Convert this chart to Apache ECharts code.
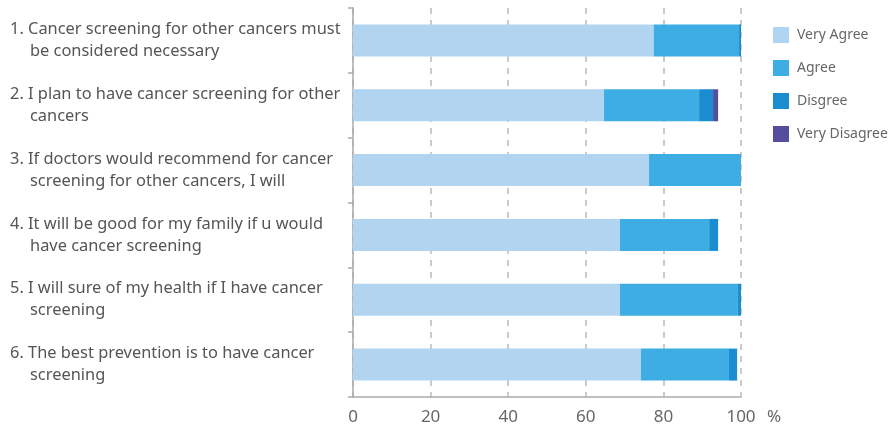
<!DOCTYPE html>
<html>
<head>
<meta charset="utf-8">
<script src="https://cdn.jsdelivr.net/npm/echarts@6/dist/echarts.min.js"></script>
<style>
  html, body { margin: 0; padding: 0; background: #fff; }
  #chart { width: 893px; height: 429px; }
</style>
</head>
<body>
<div id="chart"></div>
<script>
// Survey statements (first line, continuation line)
const categories = [
  ['1. Cancer screening for other cancers must', 'be considered necessary'],
  ['2. I plan to have cancer screening for other', 'cancers'],
  ['3. If doctors would recommend for cancer', 'screening for other cancers, I will'],
  ['4. It will be good for my family if u would', 'have cancer screening'],
  ['5. I will sure of my health if I have cancer', 'screening'],
  ['6. The best prevention is to have cancer', 'screening']
];

const seriesNames = ['Very Agree', 'Agree', 'Disgree', 'Very Disagree'];

// Response shares (%) per statement
const veryAgree    = [77.5, 64.7, 76.3, 68.8, 68.8, 74.2];
const agree        = [22.0, 24.5, 23.7, 23.0, 30.4, 22.7];
const disagree     = [0.5, 3.6, 0, 2.3, 0.8, 2.1];
const veryDisagree = [0, 1.3, 0, 0, 0, 0];

const xTicks = [0, 20, 40, 60, 80, 100];

const colors = ['#B1D5F1', '#3DADE4', '#1A8CCF', '#554E9E'];
const values = [veryAgree, agree, disagree, veryDisagree];
const font = '"Noto Sans", "Liberation Sans", sans-serif';

const chart = echarts.init(document.getElementById('chart'));

chart.setOption({
  animation: false,
  color: colors,
  textStyle: { fontFamily: font },
  legend: {
    orient: 'vertical',
    left: 773,
    top: 27,
    padding: 0,
    itemWidth: 16,
    itemHeight: 16,
    itemGap: 17,
    icon: 'rect',
    textStyle: { color: '#666', fontSize: 14, fontFamily: font, padding: [0, 0, 0, 3] },
    data: seriesNames
  },
  grid: { left: 353, right: 152, top: 8, bottom: 32, containLabel: false },
  xAxis: {
    type: 'value',
    min: xTicks[0],
    max: xTicks[xTicks.length - 1],
    interval: 20,
    name: '%',
    nameLocation: 'end',
    nameGap: 26,
    nameTextStyle: { color: '#666', fontSize: 17, fontFamily: font, verticalAlign: 'top', padding: [12, 0, 0, 0] },
    axisLine: { show: true, lineStyle: { color: '#aaa', width: 1.5 } },
    axisTick: { show: false },
    axisLabel: { color: '#666', fontSize: 17, fontFamily: font, margin: 12 },
    splitLine: { show: true, lineStyle: { color: '#bbb', type: [6, 6], width: 1.5 } }
  },
  yAxis: {
    type: 'category',
    inverse: true,
    data: categories.map(c => c.join('\n')),
    axisLine: { show: true, lineStyle: { color: '#aaa', width: 1.5 } },
    axisTick: { show: true, length: 5, lineStyle: { color: '#aaa', width: 1.5 } },
    axisLabel: {
      align: 'left',
      margin: 343,
      formatter: function (v) {
        const parts = v.split('\n');
        return '{a|' + parts[0] + '}\n{b|' + parts[1] + '}';
      },
      rich: {
        a: { color: '#555', fontSize: 16.4, lineHeight: 22, fontFamily: font },
        b: { color: '#555', fontSize: 16.4, lineHeight: 22, fontFamily: font, padding: [0, 0, 0, 20] }
      }
    }
  },
  series: seriesNames.map((name, i) => ({
    name: name,
    type: 'bar',
    stack: 'total',
    barWidth: 32,
    data: values[i]
  }))
});
</script>
</body>
</html>
